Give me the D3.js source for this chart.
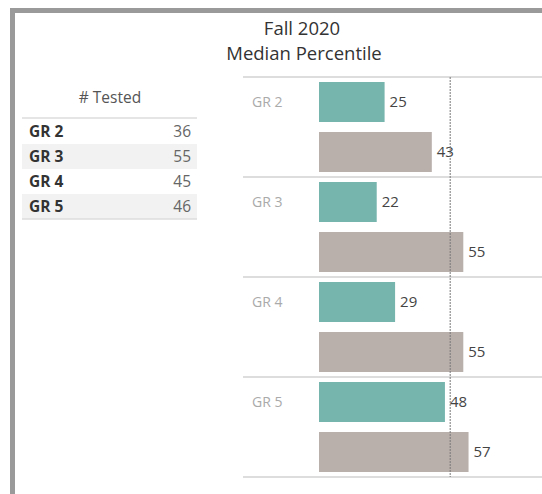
<!DOCTYPE html>
<meta charset="utf-8">
<style>
  body { margin: 0; background: #fff; }
  svg { font-family: "Open Sans", sans-serif; }
</style>
<body>
<div id="chart"></div>
<script src="https://d3js.org/d3.v7.min.js"></script>
<script>
  // data
  var grades = ["GR 2", "GR 3", "GR 4", "GR 5"];
  var tested = [36, 55, 45, 46];
  var schoolMedian = [25, 22, 29, 48];   // teal bars
  var compareMedian = [43, 55, 55, 57];  // grey bars
  var refLine = 50;

  var width = 542, height = 494;

  var svg = d3.select("#chart").append("svg")
    .attr("width", width)
    .attr("height", height);

  // outer frame (top + left edge)
  svg.append("rect")
    .attr("x", 10).attr("y", 8)
    .attr("width", width).attr("height", 5)
    .attr("fill", "#9a9a9a");
  svg.append("rect")
    .attr("x", 10).attr("y", 8)
    .attr("width", 5).attr("height", height)
    .attr("fill", "#9a9a9a");

  // titles
  svg.append("text")
    .attr("x", 302).attr("y", 35)
    .attr("text-anchor", "middle")
    .attr("font-size", 18.5).attr("fill", "#333")
    .text("Fall 2020");
  svg.append("text")
    .attr("x", 304).attr("y", 60)
    .attr("text-anchor", "middle")
    .attr("font-size", 18.5).attr("fill", "#333")
    .text("Median Percentile");

  // ---- table
  var table = svg.append("g");
  var rowScale = d3.scaleBand()
    .domain(grades)
    .range([119, 219]);

  table.append("text")
    .attr("x", 110).attr("y", 103)
    .attr("text-anchor", "middle")
    .attr("font-size", 15.5).attr("fill", "#555")
    .text("# Tested");

  table.selectAll(".rowbg")
    .data(grades)
    .enter()
    .append("rect")
    .attr("x", 22)
    .attr("y", d => rowScale(d))
    .attr("width", 175)
    .attr("height", rowScale.bandwidth())
    .attr("fill", (d, i) => i % 2 ? "#f2f2f2" : "#fff");

  table.append("line")
    .attr("x1", 22).attr("x2", 197)
    .attr("y1", 118).attr("y2", 118)
    .attr("stroke", "#ddd").attr("stroke-width", 1.5);
  table.append("line")
    .attr("x1", 22).attr("x2", 197)
    .attr("y1", 219).attr("y2", 219)
    .attr("stroke", "#ddd").attr("stroke-width", 1.5);

  table.selectAll(".rowlab")
    .data(grades)
    .enter()
    .append("text")
    .attr("x", 29)
    .attr("y", d => rowScale(d) + rowScale.bandwidth() / 2)
    .attr("dy", "0.35em")
    .attr("font-size", 15.5).attr("font-weight", "bold").attr("fill", "#333")
    .text(d => d);

  table.selectAll(".rowval")
    .data(tested)
    .enter()
    .append("text")
    .attr("x", 191)
    .attr("y", (d, i) => rowScale(grades[i]) + rowScale.bandwidth() / 2)
    .attr("dy", "0.35em")
    .attr("text-anchor", "end")
    .attr("font-size", 15.5).attr("fill", "#666")
    .text(d => d);

  // ---- bar chart
  var x = d3.scaleLinear()
    .domain([0, 85])
    .range([319, 542]);

  var groupScale = d3.scaleBand()
    .domain(grades)
    .range([77, 477]);

  var barScale = d3.scaleBand()
    .domain(["school", "compare"])
    .range([0, groupScale.bandwidth()])
    .paddingInner(0.2)
    .paddingOuter(0.1);

  var colors = { school: "#76b5ae", compare: "#b9b0ab" };

  var rows = grades.map((g, i) => ({
    grade: g,
    bars: [
      { key: "school", value: schoolMedian[i] },
      { key: "compare", value: compareMedian[i] }
    ]
  }));

  // separators
  svg.selectAll(".sep")
    .data(grades.concat(["end"]))
    .enter()
    .append("line")
    .attr("x1", 243).attr("x2", width)
    .attr("y1", (d, i) => i < grades.length ? groupScale(d) : groupScale.range()[1])
    .attr("y2", (d, i) => i < grades.length ? groupScale(d) : groupScale.range()[1])
    .attr("stroke", "#ddd").attr("stroke-width", 2);

  var groups_g = svg.selectAll(".group")
    .data(rows)
    .enter()
    .append("g")
    .attr("transform", d => "translate(0," + groupScale(d.grade) + ")");

  groups_g.append("text")
    .attr("x", 252)
    .attr("y", barScale("school") + barScale.bandwidth() / 2)
    .attr("dy", "0.35em")
    .attr("font-size", 14).attr("fill", "#aaa")
    .text(d => d.grade);

  groups_g.selectAll("rect")
    .data(d => d.bars)
    .enter()
    .append("rect")
    .attr("x", x(0))
    .attr("y", d => barScale(d.key))
    .attr("width", d => x(d.value) - x(0))
    .attr("height", barScale.bandwidth())
    .attr("fill", d => colors[d.key]);

  // reference line
  svg.append("line")
    .attr("x1", x(refLine)).attr("x2", x(refLine))
    .attr("y1", groupScale.range()[0]).attr("y2", groupScale.range()[1])
    .attr("stroke", "#777").attr("stroke-width", 1)
    .attr("stroke-dasharray", "2,1");

  groups_g.selectAll(".val")
    .data(d => d.bars)
    .enter()
    .append("text")
    .attr("x", d => x(d.value) + 5)
    .attr("y", d => barScale(d.key) + barScale.bandwidth() / 2)
    .attr("dy", "0.35em")
    .attr("font-size", 15).attr("fill", "#444")
    .text(d => d.value);
</script>
</body>
